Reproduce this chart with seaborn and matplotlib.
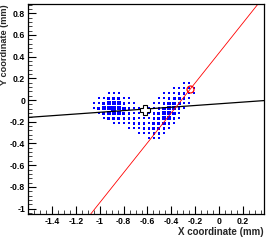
import numpy as np
import pandas as pd
import matplotlib
matplotlib.use("Agg")
import matplotlib.pyplot as plt
import seaborn as sns
from matplotlib.ticker import MultipleLocator, FuncFormatter

# ---- histogram binning (bin centres, mm) ----
x_first_bin = -1.05
x_bin_width = 0.042
y_first_bin = 0.20
y_bin_width = 0.046

# ---- cell contents (rows: top -> bottom, columns: left -> right) ----
counts = [
    [0,0,0,0,0,0,0,0,0,0,0,0,0,0,0,0,0,0,0,0,0,0],
    [0,0,0,0,0,0,0,0,0,0,0,0,0,0,0,0,0,0,1,1,0,0],
    [0,0,0,0,0,0,0,0,0,0,0,0,0,0,0,0,1,1,2,2,1,0],
    [0,0,0,1,1,1,0,0,0,0,0,0,0,0,1,1,2,3,3,2,1,0],
    [0,1,1,3,4,3,2,1,0,0,0,0,0,1,2,3,4,4,3,1,0,0],
    [1,2,4,7,8,6,3,2,1,0,0,0,1,2,3,5,5,4,2,1,0,0],
    [1,3,6,9,10,8,5,3,2,1,0,1,2,3,5,7,6,3,1,0,0,0],
    [0,2,4,6,7,6,4,3,2,2,1,2,3,4,6,8,5,2,0,0,0,0],
    [0,0,2,3,3,3,3,3,3,2,2,1,3,4,6,6,3,1,0,0,0,0],
    [0,0,0,0,1,1,2,2,3,3,3,2,4,4,5,3,1,0,0,0,0,0],
    [0,0,0,0,0,0,0,1,2,2,3,3,4,4,3,2,0,0,0,0,0,0],
    [0,0,0,0,0,0,0,0,0,1,2,2,3,3,2,0,0,0,0,0,0,0],
    [0,0,0,0,0,0,0,0,0,0,0,1,1,1,0,0,0,0,0,0,0,0],
]

# ---- fitted lines (end points, mm) ----
black_line_x = [-1.6, 0.375]
black_line_y = [-0.16, -0.005]
red_line_x = [-1.075, 0.325]
red_line_y = [-1.05, 0.885]

# ---- markers ----
open_cross_x = [-0.617]
open_cross_y = [-0.088]
red_circle_x = [-0.242]
red_circle_y = [0.101]

x_ticks = [-1.4, -1.2, -1.0, -0.8, -0.6, -0.4, -0.2, 0.0, 0.2]
y_ticks = [-1.0, -0.8, -0.6, -0.4, -0.2, 0.0, 0.2, 0.4, 0.6, 0.8]

# build long table
c = np.array(counts)
rows = []
for j in range(c.shape[0]):
    for i in range(c.shape[1]):
        if c[j, i] > 0:
            rows.append((x_first_bin + i * x_bin_width,
                         y_first_bin - j * y_bin_width, c[j, i]))
df = pd.DataFrame(rows, columns=["x", "y", "count"])

sns.set_style("ticks")
plt.rcParams['font.family'] = ['Liberation Sans', 'DejaVu Sans']

fig = plt.figure(figsize=(2.72, 2.40), dpi=100)
ax = fig.add_axes([28/272, 1 - 214/240, (264 - 28)/272, (214 - 4)/240])

sns.scatterplot(data=df, x="x", y="y", size="count", sizes=(1.6, 11),
                marker="s", color="#0000ff", linewidth=0, legend=False, ax=ax)

sns.lineplot(x=black_line_x, y=black_line_y, color="black", lw=0.9, ax=ax)
sns.lineplot(x=red_line_x, y=red_line_y, color="#ff0000", lw=0.6, ax=ax)

ax.plot(open_cross_x, open_cross_y, marker="P", ms=6.5, mfc="white",
        mec="black", mew=0.8, ls="none")
ax.plot(red_circle_x, red_circle_y, marker="o", ms=5, mfc="none",
        mec="#ff0000", mew=0.9, ls="none")

ax.set_xlim(-1.6, 0.375)
ax.set_ylim(-1.05, 0.885)
ax.set_xticks(x_ticks)
ax.set_yticks(y_ticks)
fmt = FuncFormatter(lambda v, p: "%g" % round(v, 2))
ax.xaxis.set_major_formatter(fmt)
ax.yaxis.set_major_formatter(fmt)
ax.xaxis.set_minor_locator(MultipleLocator(0.05))
ax.yaxis.set_minor_locator(MultipleLocator(0.04))
ax.tick_params(which="major", direction="in", length=6, width=0.8,
               labelsize=6.2, pad=2, colors="black")
ax.tick_params(which="minor", direction="in", length=3, width=0.6)
for lab in ax.get_xticklabels() + ax.get_yticklabels():
    lab.set_fontweight("bold")
for s in ax.spines.values():
    s.set_linewidth(0.9)
    s.set_color("black")

ax.set_xlabel("X coordinate (mm)", fontsize=7, fontweight="bold",
              loc="right", labelpad=1)
ax.set_ylabel("Y coordinate (mm)", fontsize=6.6, fontweight="bold",
              loc="top", labelpad=1)
ax.yaxis.set_label_coords(-0.082, 1.0)

fig.savefig("out.png", dpi=100)
